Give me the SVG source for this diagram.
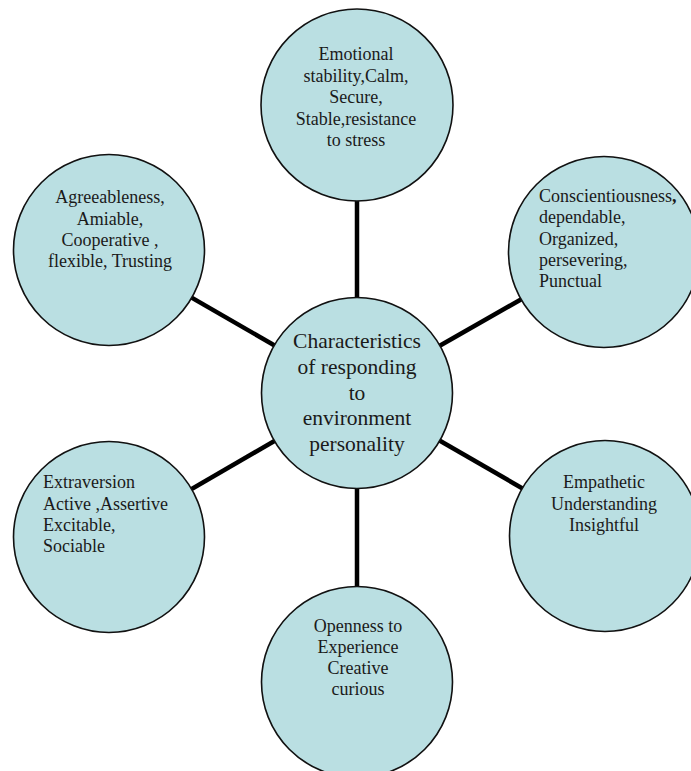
<svg xmlns="http://www.w3.org/2000/svg" width="691" height="771" viewBox="0 0 691 771">
<style>
.node{fill:#badfe2;stroke:#111;stroke-width:1.6}
.t{font-family:"Liberation Serif","Times New Roman",serif;font-size:18px;fill:#1a1a1a}
.c{text-anchor:middle}
.big{font-size:21.5px}
.conn line{stroke:#000;stroke-width:4.5}
</style>
<rect width="691" height="771" fill="#fff"/>
<g class="conn">
<line x1="357" y1="105" x2="357" y2="393"/>
<line x1="357" y1="393" x2="357" y2="682"/>
<line x1="109" y1="250" x2="357" y2="393"/>
<line x1="604" y1="252" x2="357" y2="393"/>
<line x1="109" y1="537" x2="357" y2="393"/>
<line x1="605" y1="536" x2="357" y2="393"/>
</g>
<g id="center">
<circle class="node" cx="357" cy="393" r="95.5"/>
<text class="t c big" x="357"><tspan x="357" y="348">Characteristics</tspan><tspan x="357" y="374">of responding</tspan><tspan x="357" y="400">to</tspan><tspan x="357" y="425">environment</tspan><tspan x="357" y="451">personality</tspan></text>
</g>
<g id="emotional">
<circle class="node" cx="357" cy="105" r="96"/>
<text class="t c"><tspan x="356" y="60">Emotional</tspan><tspan x="356" y="82">stability,Calm,</tspan><tspan x="356" y="103">Secure,</tspan><tspan x="356" y="125">Stable,resistance</tspan><tspan x="356" y="146">to stress</tspan></text>
</g>
<g id="agreeableness">
<circle class="node" cx="109" cy="250" r="95.5"/>
<text class="t c"><tspan x="110" y="203">Agreeableness,</tspan><tspan x="110" y="225">Amiable,</tspan><tspan x="110" y="246">Cooperative ,</tspan><tspan x="110" y="267">flexible, Trusting</tspan></text>
</g>
<g id="conscientiousness">
<circle class="node" cx="604" cy="252" r="95.5"/>
<text class="t"><tspan x="539" y="202">Conscientiousness<tspan font-weight="bold">,</tspan></tspan><tspan x="539" y="223">dependable,</tspan><tspan x="539" y="245">Organized,</tspan><tspan x="539" y="266">persevering,</tspan><tspan x="539" y="287">Punctual</tspan></text>
</g>
<g id="extraversion">
<circle class="node" cx="109" cy="537" r="95.5"/>
<text class="t"><tspan x="43" y="488">Extraversion</tspan><tspan x="43" y="510">Active ,Assertive</tspan><tspan x="43" y="531">Excitable,</tspan><tspan x="43" y="552">Sociable</tspan></text>
</g>
<g id="empathetic">
<circle class="node" cx="605" cy="536" r="95.5"/>
<text class="t c"><tspan x="604" y="488">Empathetic</tspan><tspan x="604" y="510">Understanding</tspan><tspan x="604" y="531">Insightful</tspan></text>
</g>
<g id="openness">
<circle class="node" cx="357" cy="682" r="95.5"/>
<text class="t c"><tspan x="358" y="632">Openness to</tspan><tspan x="358" y="653">Experience</tspan><tspan x="358" y="674">Creative</tspan><tspan x="358" y="695">curious</tspan></text>
</g>
</svg>
